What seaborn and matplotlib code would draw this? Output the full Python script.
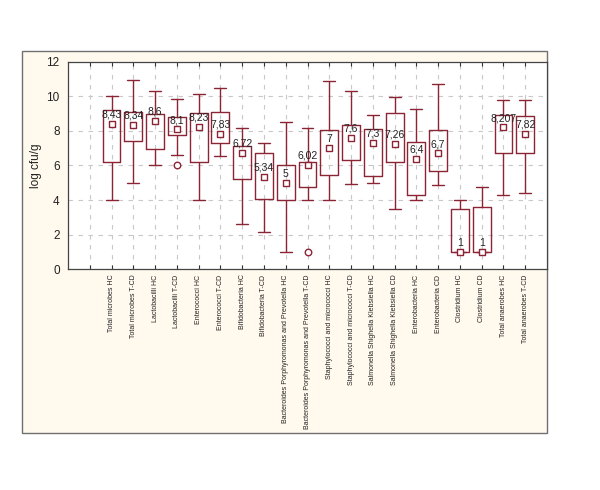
import numpy as np
import pandas as pd
import seaborn as sns
import matplotlib
matplotlib.use("Agg")
import matplotlib.pyplot as plt
from matplotlib.patches import Rectangle

sns.set_style("whitegrid")
plt.rcParams['font.family'] = ['Liberation Sans', 'DejaVu Sans']

# groups (HC = healthy controls, CD / T-CD = patients)
names = ["Total microbes HC", "Total microbes T-CD", "Lactobacilli HC", "Lactobacilli T-CD",
         "Enterococci HC", "Enterococci T-CD", "Bifidobacteria HC", "Bifidobacteria T-CD",
         "Bacteroides Porphyromonas and Prevotella HC",
         "Bacteroides Porphyromonas and Prevotella T-CD",
         "Staphylococci and micrococci HC", "Staphylococci and micrococci T-CD",
         "Salmonella Shighella Klebsiella HC", "Salmonella Shighella Klebsiella CD",
         "Enterobacteria HC", "Enterobacteria CD", "Clostridium HC", "Clostridium CD",
         "Total anaerobes HC", "Total anaerobes T-CD"]

# whisker min, box low, centre (square), box high, whisker max
w_lo = [4.0, 5.0, 6.0, 6.6, 4.0, 6.55, 2.6, 2.15, 1.0, 4.0,
        4.0, 4.95, 5.0, 3.45, 4.0, 4.85, 1.0, 1.0, 4.3, 4.4]
b_lo = [6.2, 7.4, 6.95, 7.75, 6.2, 7.3, 5.2, 4.05, 4.0, 4.75,
        5.45, 6.3, 5.4, 6.2, 4.3, 5.7, 1.0, 1.0, 6.7, 6.7]
centre = [8.43, 8.34, 8.6, 8.1, 8.23, 7.83, 6.72, 5.34, 5, 6.02,
          7, 7.6, 7.3, 7.26, 6.4, 6.7, 1, 1, 8.207, 7.82]
b_hi = [9.2, 9.1, 9.0, 8.8, 9.05, 9.1, 7.15, 6.7, 6.0, 6.2,
        8.05, 8.35, 8.1, 9.05, 7.35, 8.05, 3.45, 3.6, 8.9, 8.85]
w_hi = [10.0, 10.95, 10.3, 9.85, 10.15, 10.5, 8.15, 7.3, 8.55, 8.15,
        10.9, 10.3, 8.9, 9.95, 9.3, 10.7, 4.0, 4.75, 9.8, 9.8]

outlier_groups = ["Lactobacilli T-CD", "Bacteroides Porphyromonas and Prevotella T-CD"]
outlier_values = [6.0, 1.0]

# five points per group -> quartiles fall exactly on box edges, whis=(0,100) -> min/max
rows = []
for i, n in enumerate(names):
    for v in (w_lo[i], b_lo[i], centre[i], b_hi[i], w_hi[i]):
        rows.append({'group': n, 'value': v})
df = pd.DataFrame(rows)

col = '#8B2535'

fig = plt.figure(figsize=(6, 4.9), dpi=100)
fig.patches.append(Rectangle((0.0367, 0.1163), 0.875, 0.78, transform=fig.transFigure,
                             facecolor='#FFF9EE', edgecolor='#707070', linewidth=1.0, zorder=-5))
ax = fig.add_axes([0.1133, 0.451, 0.7984, 0.4225])
ax.set_zorder(1)
ax.set_facecolor('white')

sns.boxplot(data=df, x='group', y='value', order=names, whis=(0, 100), fill=False,
            color=col, linecolor=col, linewidth=1.0, width=0.82, showfliers=False,
            medianprops={'linewidth': 0}, capwidths=0.55, ax=ax)

sns.scatterplot(x=names, y=centre, marker='s', s=22, facecolor='white',
                edgecolor=col, linewidth=1.0, zorder=5, ax=ax)
sns.scatterplot(x=outlier_groups, y=outlier_values, marker='o', s=22, facecolor='white',
                edgecolor=col, linewidth=1.0, zorder=5, ax=ax)

for i, v in enumerate(centre):
    ax.annotate(f"{v:g}".replace('.', ','), (i, v), xytext=(0, 3), textcoords='offset points',
                ha='center', va='bottom', fontsize=7.5, color='#222222', zorder=6)

ax.set_xlim(-2, 20)
ax.set_ylim(0, 12)
ax.set_yticks(range(0, 13, 2))
ax.set_xticks(range(-1, 20))
ax.set_xticklabels([''] + names, rotation=90, fontsize=5, color='#222222')
ax.tick_params(axis='x', direction='in', length=3, top=True, bottom=True, pad=4, color='#333333')
ax.tick_params(axis='y', direction='in', length=3, labelsize=8.5, labelcolor='#222222', pad=6)
ax.set_xlabel('')
ax.set_ylabel('log cfu/g', fontsize=8.5, color='#222222', labelpad=3)

ax.grid(True, color='#C8C8C8', linestyle=(0, (4, 5)), linewidth=0.8)
for s in ax.spines.values():
    s.set_color('#444444')
    s.set_linewidth(0.9)

fig.savefig('out.png', dpi=100, facecolor='white')
